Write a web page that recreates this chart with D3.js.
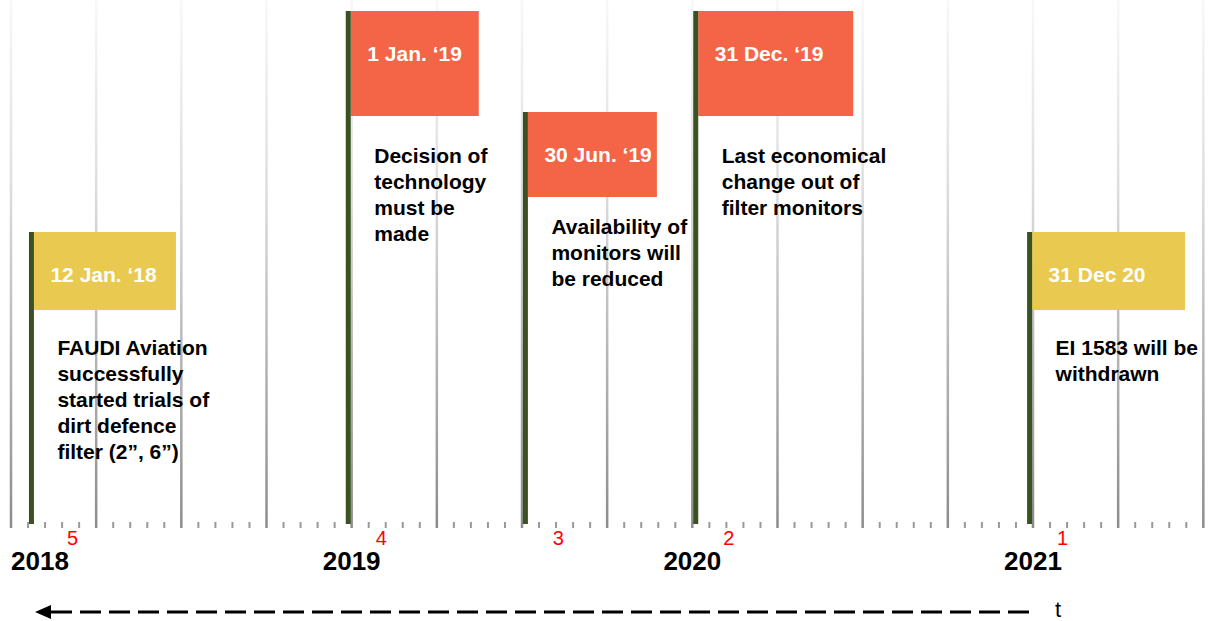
<!DOCTYPE html>
<html lang="en">
<head>
    <meta charset="UTF-8">
    <title>Timeline</title>
    <script src="https://d3js.org/d3.v7.min.js"></script>
    <style>
        body { margin: 0; background: #fff; }
        text { font-family: Arial, "Liberation Sans", sans-serif; }
    </style>
</head>
<body>
    <script>
        // Data
        const years = [2018, 2019, 2020, 2021];
        // where each flag stands on the time axis (fractional year, as drawn)
        const flagPos = [2018.06, 2018.99, 2019.51, 2020.01, 2020.99];
        const flagLabels = ["12 Jan. \u201818", "1 Jan. \u201819", "30 Jun. \u201819", "31 Dec. \u201819", "31 Dec 20"];
        const flagKinds = ["info", "deadline", "deadline", "deadline", "info"];
        const flagTiers = [0, 2, 1, 2, 0];
        const rankLabels = ["5", "4", "3", "2", "1"];
        const flagTexts = [
            ["FAUDI Aviation", "successfully", "started trials of", "dirt defence", "filter (2\u201d, 6\u201d)"],
            ["Decision of", "technology", "must be", "made"],
            ["Availability of", "monitors will", "be reduced"],
            ["Last economical", "change out of", "filter monitors"],
            ["EI 1583 will be", "withdrawn"]
        ];

        const width = 1219, height = 621;
        const baseY = 528;
        const boxW = [142, 128, 129, 155, 153];

        const svg = d3.select("body").append("svg")
            .attr("width", width)
            .attr("height", height);

        const x = d3.scaleLinear().domain([2018, 2021]).range([11, 1033]);
        const tierTop = d3.scaleLinear().domain([0, 1, 2]).range([232, 112, 11]);
        const tierBoxH = d3.scaleOrdinal().domain([0, 1, 2]).range([78, 85, 105]);
        const tierGap = d3.scaleOrdinal().domain([0, 1, 2]).range([45, 37, 47]);
        const color = d3.scaleOrdinal().domain(["info", "deadline"]).range(["#e9c94f", "#f36546"]);

        const defs = svg.append("defs");
        const grad = defs.append("linearGradient")
            .attr("id", "gridGrad")
            .attr("gradientUnits", "userSpaceOnUse")
            .attr("x1", 0).attr("y1", 0).attr("x2", 0).attr("y2", baseY);
        grad.append("stop").attr("offset", "0%").attr("stop-color", "#f8f8f8");
        grad.append("stop").attr("offset", "35%").attr("stop-color", "#dedede");
        grad.append("stop").attr("offset", "100%").attr("stop-color", "#8c8c8c");

        // grid: quarter lines and minor ticks
        const xMax = x.invert(width);
        const majors = d3.range(2018, xMax, 0.25);
        const minors = d3.range(2018, xMax, 0.05).filter(v => Math.abs(v * 4 - Math.round(v * 4)) > 1e-6);

        svg.append("g").selectAll("line")
            .data(majors)
            .join("line")
            .attr("x1", d => x(d)).attr("x2", d => x(d))
            .attr("y1", 0).attr("y2", baseY)
            .attr("stroke", "url(#gridGrad)")
            .attr("stroke-width", 2.5);

        svg.append("g").selectAll("line")
            .data(minors)
            .join("line")
            .attr("x1", d => x(d)).attr("x2", d => x(d))
            .attr("y1", baseY - 6).attr("y2", baseY)
            .attr("stroke", "#999")
            .attr("stroke-width", 2);

        // year labels
        svg.append("g").selectAll("text")
            .data(years)
            .join("text")
            .attr("x", d => x(d))
            .attr("y", 570)
            .attr("text-anchor", (d, i) => i === 0 ? "start" : "middle")
            .attr("font-size", 26)
            .attr("font-weight", "bold")
            .attr("fill", "#000")
            .text(d => d);

        // flags
        const flags = flagPos.map((p, i) => ({
            pos: p, label: flagLabels[i], kind: flagKinds[i],
            tier: flagTiers[i], rank: rankLabels[i], lines: flagTexts[i], w: boxW[i]
        }));

        const g = svg.append("g").selectAll("g")
            .data(flags)
            .join("g")
            .attr("transform", d => `translate(${x(d.pos)},0)`);

        g.append("rect")
            .attr("x", 2.5)
            .attr("y", d => tierTop(d.tier))
            .attr("width", d => d.w)
            .attr("height", d => tierBoxH(d.tier))
            .attr("fill", d => color(d.kind));

        g.append("rect")
            .attr("x", -2.5)
            .attr("y", d => tierTop(d.tier))
            .attr("width", 5)
            .attr("height", d => 524 - tierTop(d.tier))
            .attr("fill", "#3a5222");

        g.append("text")
            .attr("x", 19)
            .attr("y", d => tierTop(d.tier) + 50)
            .attr("font-size", 21)
            .attr("font-weight", "bold")
            .attr("fill", "#fff")
            .text(d => d.label);

        g.append("text")
            .attr("font-size", 21)
            .attr("font-weight", "bold")
            .attr("fill", "#000")
            .selectAll("tspan")
            .data(d => d.lines.map((l, j) => ({ l, j, y0: tierTop(d.tier) + tierBoxH(d.tier) + tierGap(d.tier) })))
            .join("tspan")
            .attr("x", 26)
            .attr("y", t => t.y0 + t.j * 26)
            .text(t => t.l);

        g.append("text")
            .attr("x", (d, i) => i === 0 ? 41 : 33)
            .attr("y", 545)
            .attr("text-anchor", "middle")
            .attr("font-size", 20)
            .attr("fill", "#ff0000")
            .text(d => d.rank);

        // time arrow
        const arrowY = 612;
        svg.append("line")
            .attr("x1", x(2018) + 40).attr("x2", x(2021))
            .attr("y1", arrowY).attr("y2", arrowY)
            .attr("stroke", "#000")
            .attr("stroke-width", 3)
            .attr("stroke-dasharray", "21 8");
        svg.append("path")
            .attr("d", `M${x(2018) + 24},${arrowY} L${x(2018) + 40},${arrowY - 7} L${x(2018) + 40},${arrowY + 7} Z`)
            .attr("fill", "#000");
        svg.append("text")
            .attr("x", 1055)
            .attr("y", 617)
            .attr("font-size", 22)
            .attr("fill", "#000")
            .text("t");
    </script>
</body>
</html>
